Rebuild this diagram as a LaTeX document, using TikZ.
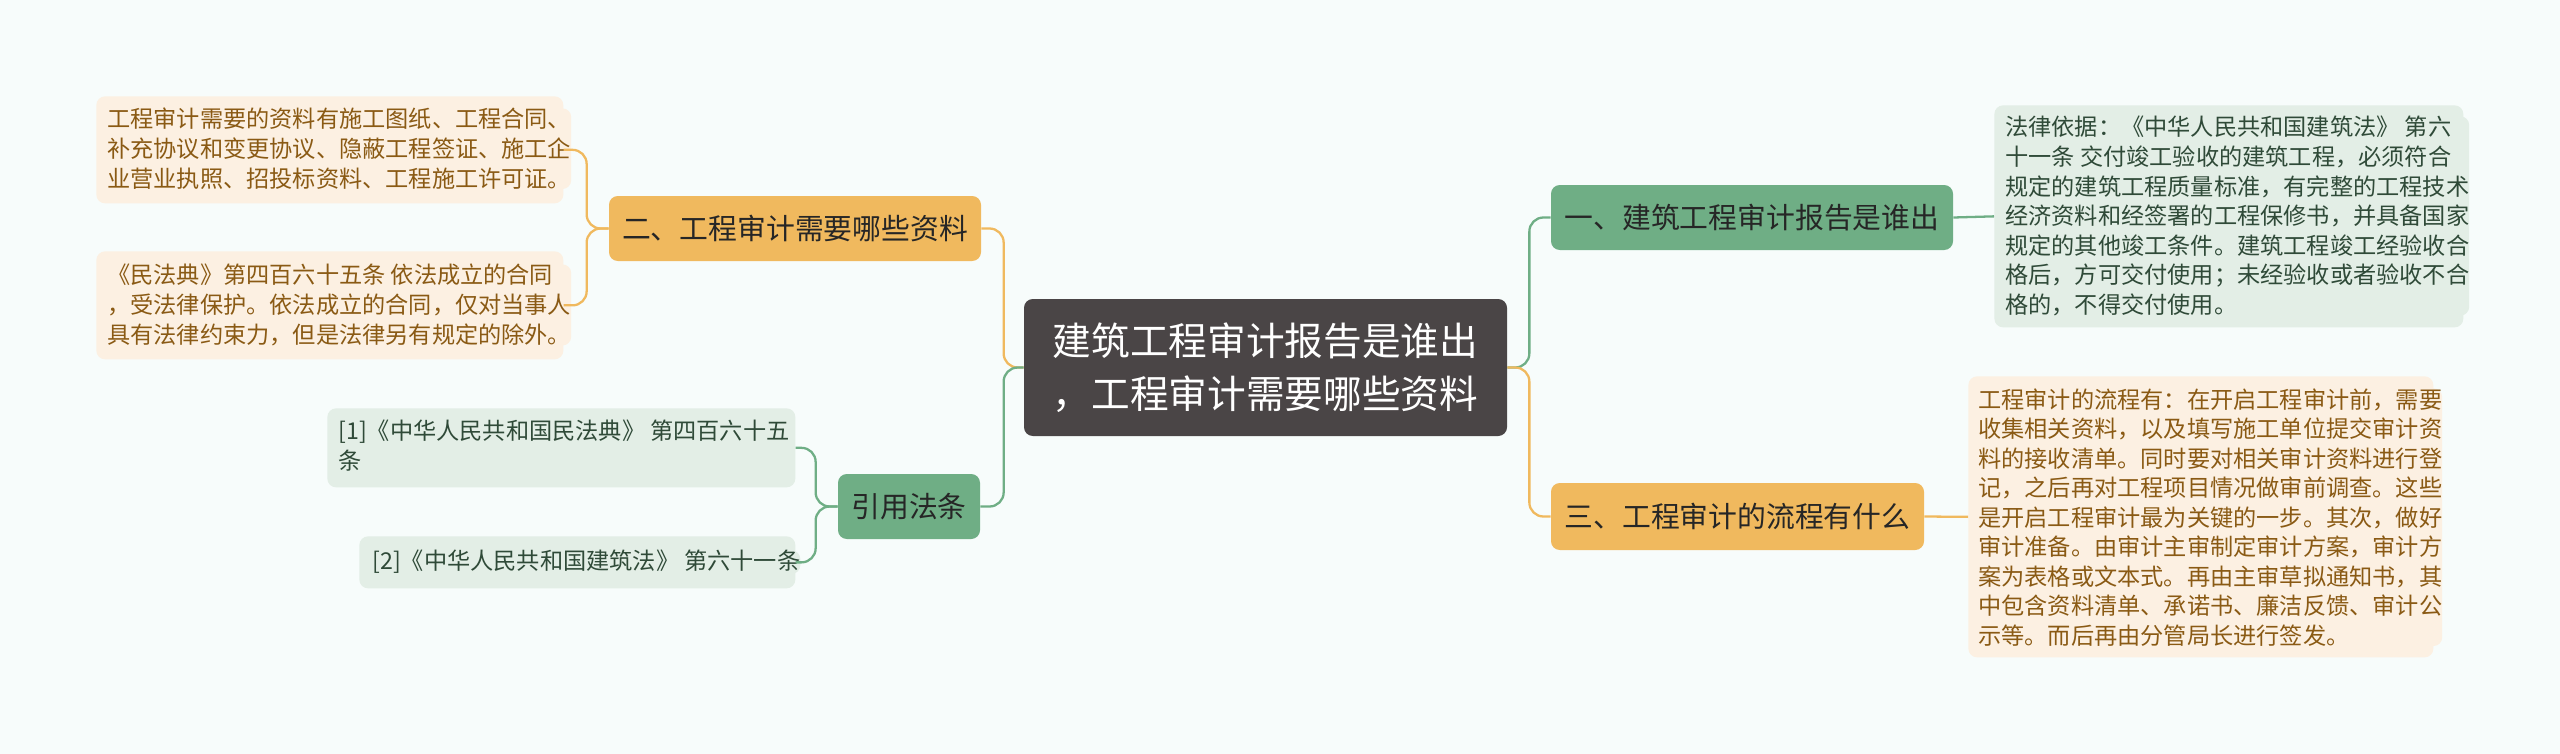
\documentclass[tikz,border=0pt]{standalone}
\usepackage{fontspec}
\setmainfont{Noto Sans CJK SC}
\usetikzlibrary{positioning}
\definecolor{bgc}{HTML}{F7FCFB}
\definecolor{darkc}{HTML}{4A4546}
\definecolor{orc}{HTML}{F0B95E}
\definecolor{grc}{HTML}{6FAE85}
\definecolor{orleaf}{HTML}{FCF0E2}
\definecolor{grleaf}{HTML}{E3EEE6}
\definecolor{brownt}{HTML}{8A5A14}
\definecolor{greent}{HTML}{2F4A38}
\tikzset{
  leafo/.style={fill=orleaf, rounded corners=5pt, text=brownt, font=\fontsize{13.2}{16.8}\selectfont, align=left, anchor=north west, inner sep=0pt},
  leafg/.style={fill=grleaf, rounded corners=5pt, text=greent, font=\fontsize{13.2}{16.8}\selectfont, align=left, anchor=north west, inner sep=0pt},
  branch/.style={rounded corners=5pt, text=black!85, font=\fontsize{16.4}{19}\selectfont, inner sep=0pt},
  link/.style={line width=1.3pt, rounded corners=8pt}
}
\begin{document}
\begin{tikzpicture}[x=0.02cm,y=-0.02cm]
\fill[bgc] (0,0) rectangle (2560,754);
% centre
\node[fill=darkc, rounded corners=5pt, text=white, align=center, font=\fontsize{22}{30}\selectfont, minimum width=483*0.02cm, minimum height=137*0.02cm, inner sep=0pt] (root) at (1265.5,367.5) {建筑工程审计报告是谁出\\，工程审计需要哪些资料};
% branches
\node[branch, fill=orc, minimum width=372*0.02cm, minimum height=65*0.02cm] (b2) at (795,228.5) {二、工程审计需要哪些资料};
\node[branch, fill=grc, minimum width=142*0.02cm, minimum height=65*0.02cm] (cite) at (909,506.5) {引用法条};
\node[branch, fill=grc, minimum width=402*0.02cm, minimum height=65*0.02cm] (b1) at (1752,217.5) {一、建筑工程审计报告是谁出};
\node[branch, fill=orc, minimum width=373*0.02cm, minimum height=67*0.02cm] (b3) at (1737.5,516.5) {三、工程审计的流程有什么};
% leaves
\node[leafo, minimum width=467*0.02cm, minimum height=107*0.02cm] (l1) at (96,96) {};
\node[leafo] (l1t) at (107,108) {工程审计需要的资料有施工图纸、工程合同、\\补充协议和变更协议、隐蔽工程签证、施工企\\业营业执照、招投标资料、工程施工许可证。};
\node[leafo, minimum width=467*0.02cm, minimum height=108*0.02cm] (l2) at (96,251) {};
\node[leafo] (l2t) at (107,264) {《民法典》第四百六十五条 依法成立的合同\\，受法律保护。依法成立的合同，仅对当事人\\具有法律约束力，但是法律另有规定的除外。};
\node[leafg, minimum width=468*0.02cm, minimum height=79*0.02cm] (c1) at (327,408) {};
\node[leafg] (c1t) at (338,420) {[1]《中华人民共和国民法典》 第四百六十五\\条};
\node[leafg, minimum width=436*0.02cm, minimum height=52*0.02cm] (c2) at (359,536) {};
\node[leafg] (c2t) at (372,550) {[2]《中华人民共和国建筑法》 第六十一条};
\node[leafg, minimum width=469*0.02cm, minimum height=222*0.02cm] (r1) at (1994,105) {};
\node[leafg] (r1t) at (2005,116) {法律依据：《中华人民共和国建筑法》 第六\\十一条 交付竣工验收的建筑工程，必须符合\\规定的建筑工程质量标准，有完整的工程技术\\经济资料和经签署的工程保修书，并具备国家\\规定的其他竣工条件。建筑工程竣工经验收合\\格后，方可交付使用；未经验收或者验收不合\\格的，不得交付使用。};
\node[leafo, minimum width=465*0.02cm, minimum height=281*0.02cm] (r2) at (1968,376) {};
\node[leafo] (r2t) at (1978,388) {工程审计的流程有：在开启工程审计前，需要\\收集相关资料，以及填写施工单位提交审计资\\料的接收清单。同时要对相关审计资料进行登\\记，之后再对工程项目情况做审前调查。这些\\是开启工程审计最为关键的一步。其次，做好\\审计准备。由审计主审制定审计方案，审计方\\案为表格或文本式。再由主审草拟通知书，其\\中包含资料清单、承诺书、廉洁反馈、审计公\\示等。而后再由分管局长进行签发。};
% links
\draw[link, orc] (root.west) -- ++(-20,0) |- (b2.east);
\draw[link, grc] (root.west) -- ++(-20,0) |- (cite.east);
\draw[link, grc] (root.east) -- ++(22,0) |- (b1.west);
\draw[link, orc] (root.east) -- ++(22,0) |- (b3.west);
\draw[link, orc] (b2.west) -- ++(-22,0) |- (l1.east);
\draw[link, orc] (b2.west) -- ++(-22,0) |- (l2.east);
\draw[link, grc] (cite.west) -- ++(-22,0) |- (c1.east);
\draw[link, grc] (cite.west) -- ++(-22,0) |- (c2.east);
\draw[link, grc] (b1.east) -- (r1.west);
\draw[link, orc] (b3.east) -- (r2.west);
\end{tikzpicture}
\end{document}
